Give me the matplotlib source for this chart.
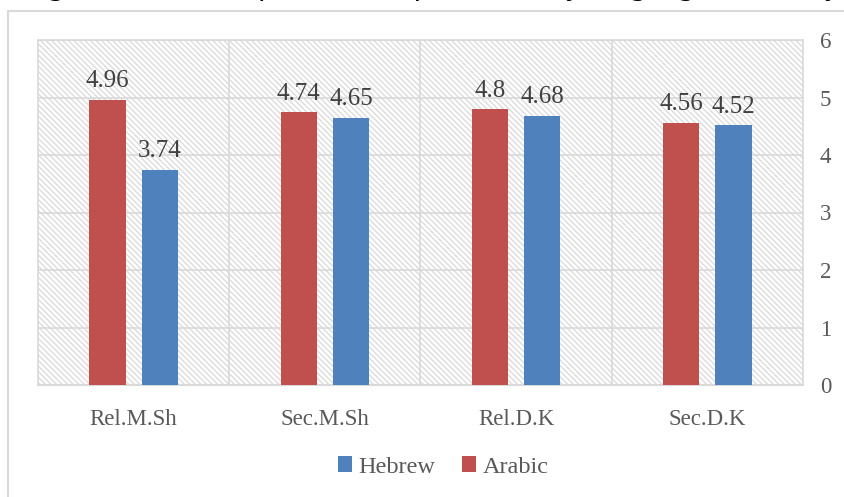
import numpy as np
import matplotlib.pyplot as plt
from matplotlib.patches import Rectangle

# Données
categories = ['Rel.M.Sh', 'Sec.M.Sh', 'Rel.D.K', 'Sec.D.K']
arabic = [4.96, 4.74, 4.8, 4.56]
hebrew = [3.74, 4.65, 4.68, 4.52]
title = 'Figure 4: Means of the items of the scale by language and study'

red = '#C0504D'
blue = '#4F81BD'
txt = '#595959'
grid = '#D9D9D9'

plt.rcParams['font.family'] = ['Liberation Serif', 'DejaVu Serif']
plt.rcParams['hatch.linewidth'] = 0.9
plt.rcParams['hatch.color'] = grid

fig = plt.figure(figsize=(8.44, 4.97), dpi=100)
ax = fig.add_axes([38/844, 1-385/497, (803-38)/844, (385-40)/497])

# fond hachuré
ax.add_patch(Rectangle((0, 0), 1, 1, transform=ax.transAxes, facecolor='white',
                       edgecolor=grid, hatch='\\\\\\\\\\\\', linewidth=0, zorder=0))

x = np.arange(len(categories))
w = 0.19
off = 0.137
b1 = ax.bar(x - off, arabic, width=w, color=red, label='Arabic', zorder=3)
b2 = ax.bar(x + off, hebrew, width=w, color=blue, label='Hebrew', zorder=3)

for bars, vals in [(b1, arabic), (b2, hebrew)]:
    for b, v in zip(bars, vals):
        ax.text(b.get_x() + b.get_width()/2, v + 0.13, str(v), ha='center', va='bottom',
                fontsize=18, color='#404040', zorder=4)

ax.set_xlim(-0.5, 3.5)
ax.set_ylim(0, 6)
ax.set_yticks(range(0, 7))
ax.yaxis.tick_right()
ax.set_xticks(x)
ax.set_xticklabels(categories)
ax.tick_params(axis='both', length=0, labelsize=16.5, colors=txt)
ax.tick_params(axis='x', pad=17)
ax.tick_params(axis='y', pad=12)
for yv in range(1, 7):
    ax.axhline(yv, color=grid, lw=1.2, zorder=1)
for xv in [0.5, 1.5, 2.5]:
    ax.axvline(xv, color=grid, lw=1.2, zorder=1)
for s in ['top', 'right', 'left']:
    ax.spines[s].set_color(grid)
    ax.spines[s].set_linewidth(1.2)
ax.spines['bottom'].set_color(grid)
ax.spines['bottom'].set_linewidth(1.5)

h, l = ax.get_legend_handles_labels()
fig.legend(h[::-1], l[::-1], loc='center', bbox_to_anchor=(443/844, 1-467/497), ncol=2,
           frameon=False, fontsize=17.5, labelcolor=txt, handlelength=0.6, handleheight=0.6,
           handletextpad=0.25, columnspacing=1.1)

# cadre extérieur
fig.add_artist(Rectangle((8/844, -0.01), 1, 1-11/497 + 0.01, transform=fig.transFigure,
                         fill=False, edgecolor=grid, lw=1.5))

# titre coupé en haut
fig.text(22/844, 1 + 6/497, title, ha='left', va='baseline', fontsize=23,
         style='italic', color='black')

fig.savefig('out.png', dpi=100)
